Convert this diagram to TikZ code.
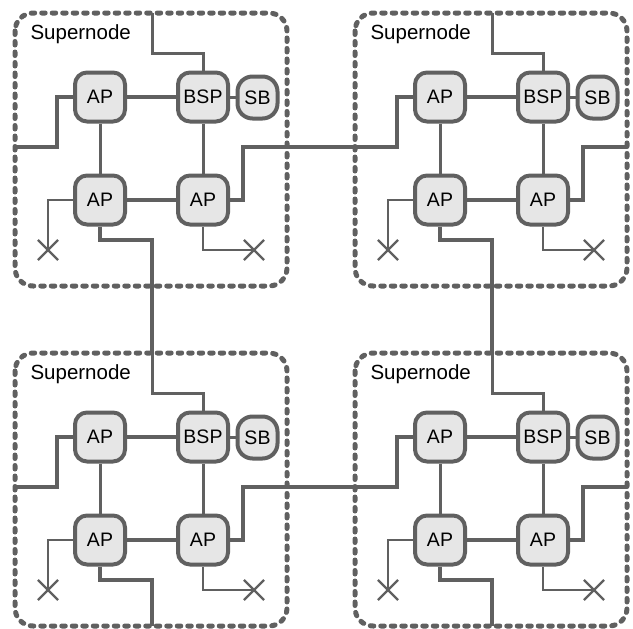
\documentclass[tikz,border=0pt]{standalone}
\usepackage{fontspec}
\setmainfont{Liberation Sans}
\usepackage{tikz}
\usetikzlibrary{positioning, shapes.misc}
\definecolor{linegray}{RGB}{96,96,96}
\definecolor{fillgray}{RGB}{230,230,230}
\tikzset{
  unit/.style={draw=linegray, fill=fillgray, line width=4pt, rounded corners=12pt,
    minimum width=50pt, minimum height=49pt, inner sep=0pt,
    font=\fontsize{19.5}{22}\selectfont},
  smallunit/.style={unit, minimum width=40pt, minimum height=42pt, rounded corners=15pt},
  supernode/.style={draw=linegray, line width=5pt, dash pattern=on 3.5pt off 7pt,
    line cap=round, rounded corners=18pt},
  link/.style={draw=linegray, line width=4pt},
  midlink/.style={draw=linegray, line width=3pt},
  thinlink/.style={draw=linegray, line width=2pt},
  endmark/.style={cross out, draw=linegray, line width=2.2pt, minimum size=18pt, inner sep=0pt}
}
\begin{document}
\begin{tikzpicture}[x=1pt, y=-1pt]
    \useasboundingbox (0,0) rectangle (633,629);
    \foreach \s/\dx/\dy in {a/0/0, b/340/0, c/0/340, d/340/340} {
      \begin{scope}[shift={(\dx,\dy)}]
        \draw[supernode] (15,13) rectangle (287,286);
        \node[anchor=base west, font=\fontsize{20.5}{24}\selectfont] (title\s) at (27,39.5) {Supernode};
        % processors
        \node[unit] (apnw\s) at (100,97) {AP};
        \node[unit, right=49pt of apnw\s] (bsp\s) {BSP};
        \node[smallunit, right=5.5pt of bsp\s, yshift=-0.5pt] (sb\s) {SB};
        \node[unit, below=50pt of apnw\s] (apsw\s) {AP};
        \node[unit, below=50pt of bsp\s] (apse\s) {AP};
        \node[endmark] (xw\s) at (48,250) {};
        \node[endmark] (xe\s) at (254,250) {};
        % ports on the box edge
        \coordinate (pw\s) at (15,147);
        \coordinate (pe\s) at (287,147);
        \coordinate (pn\s) at (152,13);
        \coordinate (ps\s) at (152,286);
        % links inside
        \draw[link] (apnw\s) -- (bsp\s);
        \draw[midlink] (bsp\s.east) -- (bsp\s.east -| sb\s.west);
        \draw[link] (apsw\s) -- (apse\s);
        \draw[midlink] (apnw\s) -- (apsw\s);
        \draw[midlink] (bsp\s) -- (apse\s);
        \draw[midlink] (bsp\s.north) |- (152,53) -- (pn\s);
        \draw[link] (apnw\s.west) -| (57,147) -- (pw\s);
        \draw[link] (apse\s.east) -| (243,147) -- (pe\s);
        \draw[link] (apsw\s.south) |- (152,240) -- (ps\s);
        \draw[thinlink] (apsw\s.west) -| (xw\s.center);
        \draw[thinlink] (apse\s.south) |- (xe\s.center);
      \end{scope}
    }
    % links between supernodes
    \draw[link] (pea) -- (pwb);
    \draw[link] (pec) -- (pwd);
    \draw[link] (psa) -- (pnc);
    \draw[link] (psb) -- (pnd);
\end{tikzpicture}
\end{document}
